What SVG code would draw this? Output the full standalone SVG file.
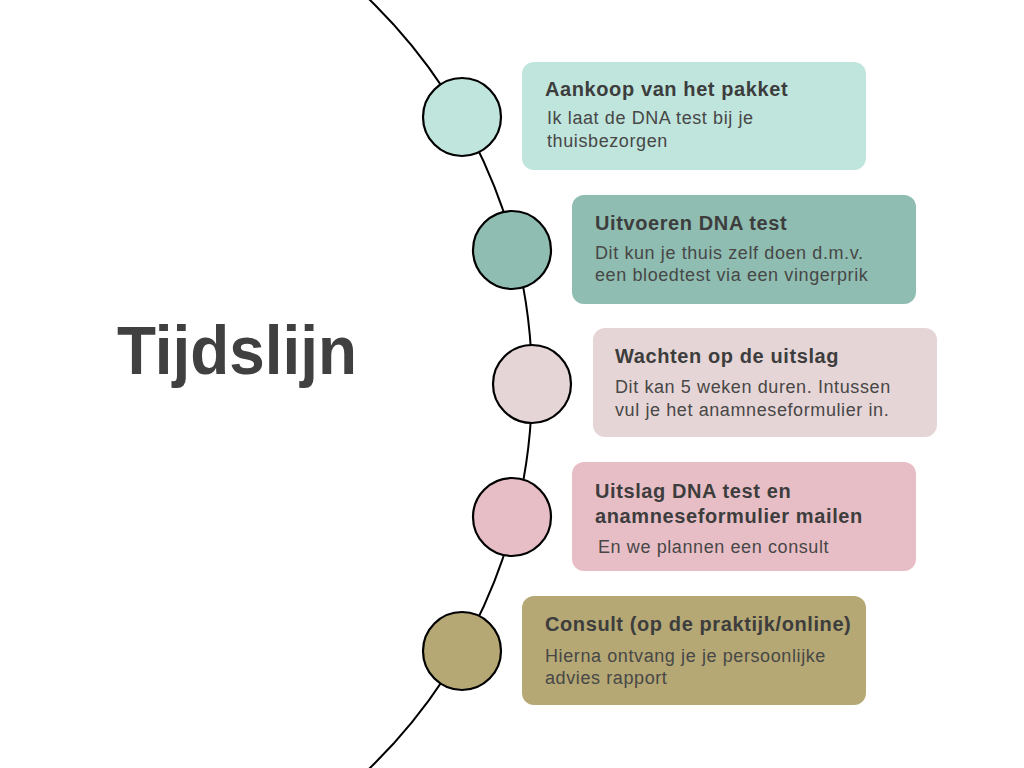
<svg xmlns="http://www.w3.org/2000/svg" width="1024" height="768" viewBox="0 0 1024 768">
<style>
.arc{fill:none;stroke:#000;stroke-width:2}
.dot{stroke:#000;stroke-width:2.2}
.h{font-family:"Liberation Sans",Arial,sans-serif;font-weight:bold;font-size:20px;letter-spacing:0.6px;fill:#3d3d3d}
.b{font-family:"Liberation Sans",Arial,sans-serif;font-size:18px;letter-spacing:0.6px;fill:#474747}
.t{font-family:"Liberation Sans",Arial,sans-serif;font-weight:bold;font-size:68px;fill:#404040}
</style>
<rect width="1024" height="768" fill="#fff"/>
<text class="t" x="117" y="374" textLength="240" lengthAdjust="spacingAndGlyphs">Tijdslijn</text>
<g id="connectors">
<circle class="arc" cx="-4" cy="384" r="536"/>
</g>
<g id="step1">
<circle class="dot" cx="462" cy="117" r="39" fill="#bfe5dc"/>
<rect x="522" y="62" width="344" height="108" rx="12" fill="#bfe5dc"/>
<text class="h" x="545" y="96">Aankoop van het pakket</text>
<text class="b" x="547" y="124">Ik laat de DNA test bij je</text>
<text class="b" x="547" y="147">thuisbezorgen</text>
</g>
<g id="step2">
<circle class="dot" cx="512" cy="250" r="39" fill="#8fbdb1"/>
<rect x="572" y="195" width="344" height="109" rx="12" fill="#8fbdb1"/>
<text class="h" x="595" y="230">Uitvoeren DNA test</text>
<text class="b" x="595" y="259">Dit kun je thuis zelf doen d.m.v.</text>
<text class="b" x="595" y="281">een bloedtest via een vingerprik</text>
</g>
<g id="step3">
<circle class="dot" cx="532" cy="384" r="39" fill="#e6d5d6"/>
<rect x="593" y="328" width="344" height="109" rx="12" fill="#e6d5d6"/>
<text class="h" x="615" y="363">Wachten op de uitslag</text>
<text class="b" x="615" y="393">Dit kan 5 weken duren. Intussen</text>
<text class="b" x="615" y="416">vul je het anamneseformulier in.</text>
</g>
<g id="step4">
<circle class="dot" cx="512" cy="517" r="39" fill="#e8bec6"/>
<rect x="572" y="462" width="344" height="109" rx="12" fill="#e8bec6"/>
<text class="h" x="595" y="498">Uitslag DNA test en</text>
<text class="h" x="595" y="523">anamneseformulier mailen</text>
<text class="b" x="598" y="553">En we plannen een consult</text>
</g>
<g id="step5">
<circle class="dot" cx="462" cy="651" r="39" fill="#b5a874"/>
<rect x="522" y="596" width="344" height="109" rx="12" fill="#b5a874"/>
<text class="h" x="545" y="631">Consult (op de praktijk/online)</text>
<text class="b" x="545" y="662">Hierna ontvang je je persoonlijke</text>
<text class="b" x="545" y="684">advies rapport</text>
</g>
</svg>
